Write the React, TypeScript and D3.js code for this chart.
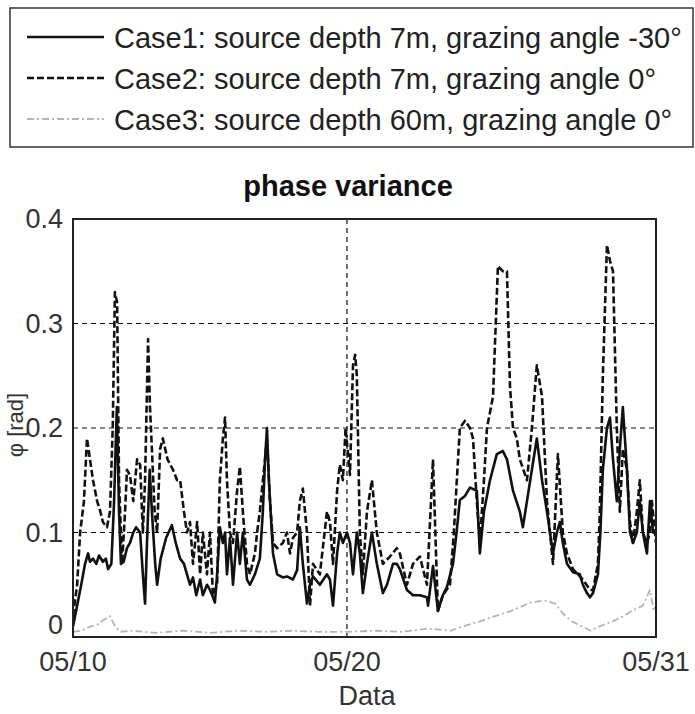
import React from "react";
import * as d3 from "d3";

// Day offsets since 05/10 00:00, values in rad
const case1: [number, number][] = [
  [0, 0.01], [0.15, 0.03], [0.3, 0.05], [0.44, 0.07], [0.55, 0.08], [0.62, 0.072], [0.73, 0.075], [0.85, 0.07],
  [0.95, 0.078], [1.09, 0.072], [1.2, 0.075], [1.28, 0.065], [1.4, 0.07], [1.5, 0.13], [1.6, 0.22], [1.68, 0.12],
  [1.75, 0.07], [1.85, 0.072], [1.97, 0.085], [2.08, 0.09], [2.2, 0.1], [2.3, 0.105], [2.45, 0.1], [2.55, 0.06],
  [2.63, 0.032], [2.7, 0.09], [2.8, 0.16], [2.88, 0.12], [3.0, 0.07], [3.07, 0.05], [3.2, 0.075], [3.4, 0.095],
  [3.61, 0.107], [3.75, 0.09], [3.91, 0.075], [4.05, 0.07], [4.16, 0.06], [4.27, 0.05], [4.38, 0.057], [4.5, 0.04],
  [4.64, 0.055], [4.74, 0.04], [4.89, 0.05], [5.0, 0.045], [5.11, 0.038], [5.18, 0.033], [5.26, 0.06], [5.36, 0.105],
  [5.47, 0.09], [5.55, 0.1], [5.62, 0.06], [5.73, 0.095], [5.84, 0.05], [5.99, 0.1], [6.09, 0.07], [6.2, 0.1],
  [6.35, 0.055], [6.46, 0.05], [6.64, 0.06], [6.82, 0.075], [6.93, 0.12], [7.01, 0.17], [7.08, 0.2], [7.15, 0.15],
  [7.3, 0.08], [7.45, 0.06], [7.66, 0.057], [7.81, 0.058], [8.03, 0.055], [8.18, 0.064], [8.28, 0.105], [8.39, 0.07],
  [8.54, 0.032], [8.65, 0.05], [8.76, 0.058], [9.01, 0.05], [9.27, 0.06], [9.38, 0.055], [9.49, 0.03], [9.64, 0.08],
  [9.74, 0.1], [9.85, 0.09], [10.0, 0.1], [10.11, 0.09], [10.22, 0.06], [10.36, 0.1], [10.47, 0.08], [10.58, 0.042],
  [10.73, 0.07], [10.91, 0.1], [11.09, 0.07], [11.31, 0.042], [11.46, 0.05], [11.57, 0.06], [11.68, 0.07], [11.82, 0.07],
  [11.93, 0.065], [12.19, 0.045], [12.41, 0.04], [12.66, 0.04], [12.92, 0.038], [12.96, 0.03], [13.14, 0.068], [13.32, 0.025],
  [13.5, 0.04], [13.65, 0.048], [13.87, 0.07], [14.0, 0.1], [14.12, 0.131], [14.31, 0.135], [14.49, 0.143], [14.74, 0.14],
  [14.85, 0.08], [15.0, 0.12], [15.22, 0.15], [15.47, 0.175], [15.69, 0.178], [15.84, 0.17], [16.06, 0.14], [16.31, 0.12],
  [16.42, 0.105], [16.57, 0.13], [16.75, 0.16], [16.93, 0.19], [17.12, 0.15], [17.3, 0.12], [17.52, 0.08], [17.66, 0.1],
  [17.77, 0.11], [17.88, 0.09], [18.03, 0.07], [18.25, 0.062], [18.5, 0.06], [18.61, 0.05], [18.76, 0.042], [18.87, 0.038],
  [18.98, 0.042], [19.16, 0.06], [19.25, 0.1], [19.34, 0.16], [19.49, 0.2], [19.6, 0.21], [19.71, 0.17], [19.85, 0.13],
  [19.96, 0.18], [20.07, 0.22], [20.22, 0.16], [20.33, 0.1], [20.44, 0.09], [20.58, 0.1], [20.69, 0.13], [20.8, 0.1],
  [20.95, 0.08], [21.06, 0.13], [21.17, 0.1], [21.28, 0.1],
];

const case2: [number, number][] = [
  [0, 0.02], [0.15, 0.05], [0.26, 0.1], [0.4, 0.13], [0.51, 0.19], [0.62, 0.17], [0.73, 0.15], [0.88, 0.13],
  [1.0, 0.12], [1.09, 0.11], [1.24, 0.105], [1.35, 0.12], [1.45, 0.2], [1.53, 0.33], [1.61, 0.32], [1.68, 0.15],
  [1.79, 0.07], [1.9, 0.12], [1.97, 0.16], [2.08, 0.155], [2.2, 0.13], [2.34, 0.17], [2.45, 0.165], [2.55, 0.1],
  [2.63, 0.15], [2.74, 0.285], [2.81, 0.22], [2.88, 0.18], [2.98, 0.12], [3.07, 0.1], [3.18, 0.18], [3.28, 0.19],
  [3.45, 0.17], [3.65, 0.16], [3.8, 0.15], [3.91, 0.15], [4.05, 0.12], [4.16, 0.1], [4.27, 0.11], [4.38, 0.07],
  [4.53, 0.11], [4.64, 0.06], [4.74, 0.1], [4.89, 0.06], [5.0, 0.1], [5.11, 0.04], [5.26, 0.05], [5.36, 0.15],
  [5.47, 0.19], [5.55, 0.21], [5.62, 0.15], [5.73, 0.1], [5.84, 0.09], [5.99, 0.14], [6.09, 0.163], [6.2, 0.12],
  [6.35, 0.07], [6.46, 0.06], [6.64, 0.08], [6.72, 0.1], [6.82, 0.12], [6.93, 0.15], [7.01, 0.17], [7.08, 0.19],
  [7.19, 0.13], [7.3, 0.09], [7.45, 0.085], [7.66, 0.09], [7.81, 0.1], [7.92, 0.08], [8.03, 0.095], [8.18, 0.1],
  [8.28, 0.13], [8.39, 0.142], [8.54, 0.1], [8.65, 0.03], [8.76, 0.07], [9.01, 0.06], [9.27, 0.12], [9.38, 0.11],
  [9.49, 0.07], [9.64, 0.14], [9.74, 0.165], [9.85, 0.15], [9.95, 0.2], [10.11, 0.155], [10.22, 0.26], [10.3, 0.27],
  [10.36, 0.25], [10.47, 0.1], [10.58, 0.06], [10.73, 0.12], [10.91, 0.15], [11.09, 0.1], [11.31, 0.07], [11.57, 0.077],
  [11.82, 0.085], [11.93, 0.08], [12.19, 0.05], [12.41, 0.07], [12.66, 0.077], [12.92, 0.05], [13.05, 0.12], [13.14, 0.17],
  [13.25, 0.08], [13.32, 0.025], [13.5, 0.04], [13.76, 0.05], [13.9, 0.1], [14.12, 0.2], [14.31, 0.207], [14.49, 0.2],
  [14.6, 0.19], [14.74, 0.13], [14.85, 0.09], [15.0, 0.15], [15.11, 0.2], [15.33, 0.23], [15.51, 0.355], [15.69, 0.35],
  [15.84, 0.35], [15.95, 0.24], [16.06, 0.2], [16.2, 0.19], [16.31, 0.17], [16.57, 0.15], [16.75, 0.2], [16.93, 0.26],
  [17.12, 0.23], [17.3, 0.13], [17.52, 0.07], [17.7, 0.175], [17.88, 0.1], [18.03, 0.08], [18.25, 0.065], [18.61, 0.055],
  [18.87, 0.045], [18.98, 0.045], [19.16, 0.07], [19.23, 0.12], [19.34, 0.25], [19.49, 0.375], [19.6, 0.36], [19.71, 0.35],
  [19.85, 0.2], [19.96, 0.12], [20.07, 0.18], [20.22, 0.16], [20.33, 0.11], [20.44, 0.09], [20.58, 0.12], [20.69, 0.15],
  [20.8, 0.1], [20.95, 0.09], [21.06, 0.1], [21.13, 0.13], [21.24, 0.1], [21.28, 0.09],
];

const case3: [number, number][] = [
  [0, 0.005], [0.3, 0.006], [0.62, 0.01], [0.9, 0.012], [1.1, 0.016], [1.35, 0.02], [1.5, 0.012], [1.72, 0.005],
  [2.2, 0.006], [3.0, 0.004], [4.0, 0.006], [5.0, 0.004], [6.0, 0.006], [7.0, 0.005], [8.0, 0.006], [9.0, 0.005],
  [10.0, 0.005], [11.0, 0.006], [12.0, 0.005], [13.0, 0.008], [13.8, 0.006], [14.2, 0.01], [14.85, 0.015], [15.4, 0.02],
  [16.0, 0.025], [16.7, 0.033], [17.2, 0.035], [17.6, 0.032], [17.9, 0.022], [18.2, 0.015], [18.6, 0.01], [18.9, 0.006],
  [19.2, 0.01], [19.7, 0.015], [20.1, 0.02], [20.4, 0.025], [20.8, 0.03], [21.06, 0.045], [21.2, 0.025], [21.28, 0.03],
];

const xTickValues = [0, 10, 21.28];
const xTickLabels = ["05/10", "05/20", "05/31"];
const yTickValues = [0, 0.1, 0.2, 0.3, 0.4];
const yTickLabels = ["0", "0.1", "0.2", "0.3", "0.4"];
const legendLabels = [
  "Case1: source depth 7m, grazing angle -30\u00b0",
  "Case2: source depth 7m, grazing angle 0\u00b0",
  "Case3: source depth 60m, grazing angle 0\u00b0",
];

const W = 695;
const H = 714;
const M = { left: 73, right: 656, top: 219, bottom: 637 };
const FONT = "'Liberation Sans', Arial, sans-serif";

const styles = [
  { stroke: "#111", width: 2.6, dash: undefined as string | undefined },
  { stroke: "#111", width: 2.6, dash: "7,3" },
  { stroke: "#b4b4b4", width: 1.8, dash: "7,3,2,3" },
];

export default function App() {
  const x = d3.scaleLinear().domain([0, 21.28]).range([M.left, M.right]);
  const y = d3.scaleLinear().domain([0, 0.4]).range([M.bottom, M.top]);
  const line = d3
    .line<[number, number]>()
    .x((d) => x(d[0]))
    .y((d) => y(d[1]));
  const series = [case1, case2, case3];

  return (
    <svg
      width={W}
      height={H}
      style={{ position: "absolute", left: 0, top: 0, background: "#fff" }}
      fontFamily={FONT}
    >
      <rect x={0} y={0} width={W} height={H} fill="#fff" />
      {/* Legend */}
      <rect x={10} y={8} width={683} height={139} fill="#fff" stroke="#333" strokeWidth={1.5} />
      {legendLabels.map((lab, i) => {
        const cy = 37 + i * 41;
        return (
          <g key={lab}>
            <line
              x1={27}
              x2={104}
              y1={cy}
              y2={cy}
              stroke={styles[i].stroke}
              strokeWidth={styles[i].width}
              strokeDasharray={styles[i].dash}
            />
            <text x={114} y={cy + 11} fontSize={29} fill="#222">
              {lab}
            </text>
          </g>
        );
      })}

      {/* Title */}
      <text x={348} y={196} textAnchor="middle" fontSize={29} fontWeight="bold" fill="#111">
        phase variance
      </text>

      <defs>
        <clipPath id="plotclip">
          <rect x={M.left} y={M.top} width={M.right - M.left} height={M.bottom - M.top} />
        </clipPath>
      </defs>

      {/* Grid */}
      {yTickValues
        .filter((v) => v > 0 && v < 0.4)
        .map((v) => (
          <line key={v} x1={M.left} x2={M.right} y1={y(v)} y2={y(v)} stroke="#111" strokeWidth={1.2} strokeDasharray="5,4" />
        ))}
      {xTickValues
        .filter((v, i) => i > 0 && i < xTickValues.length - 1)
        .map((v) => (
          <line key={v} x1={x(v)} x2={x(v)} y1={M.top} y2={M.bottom} stroke="#111" strokeWidth={1.2} strokeDasharray="5,4" />
        ))}

      {/* Series (draw case3 first, then case2, then case1) */}
      <g clipPath="url(#plotclip)">
        {[2, 1, 0].map((i) => (
          <path
            key={i}
            d={line(series[i]) || ""}
            fill="none"
            stroke={styles[i].stroke}
            strokeWidth={styles[i].width}
            strokeDasharray={styles[i].dash}
            strokeLinejoin="round"
          />
        ))}
      </g>

      {/* Axes box */}
      <rect x={M.left} y={M.top} width={M.right - M.left} height={M.bottom - M.top} fill="none" stroke="#222" strokeWidth={2} />

      {/* Y ticks */}
      {yTickValues.map((v, i) => (
        <text key={v} x={63} y={y(v) + (v === 0 ? -3 : 9)} textAnchor="end" fontSize={27} fill="#333">
          {yTickLabels[i]}
        </text>
      ))}
      {/* X ticks */}
      {xTickValues.map((v, i) => (
        <text key={v} x={x(v)} y={671} textAnchor="middle" fontSize={27} fill="#333">
          {xTickLabels[i]}
        </text>
      ))}
      <text x={367} y={705} textAnchor="middle" fontSize={27} fill="#333">
        Data
      </text>
      <text transform={`translate(23,425) rotate(-90)`} textAnchor="middle" fontSize={22} fill="#333">
        φ [rad]
      </text>
    </svg>
  );
}
